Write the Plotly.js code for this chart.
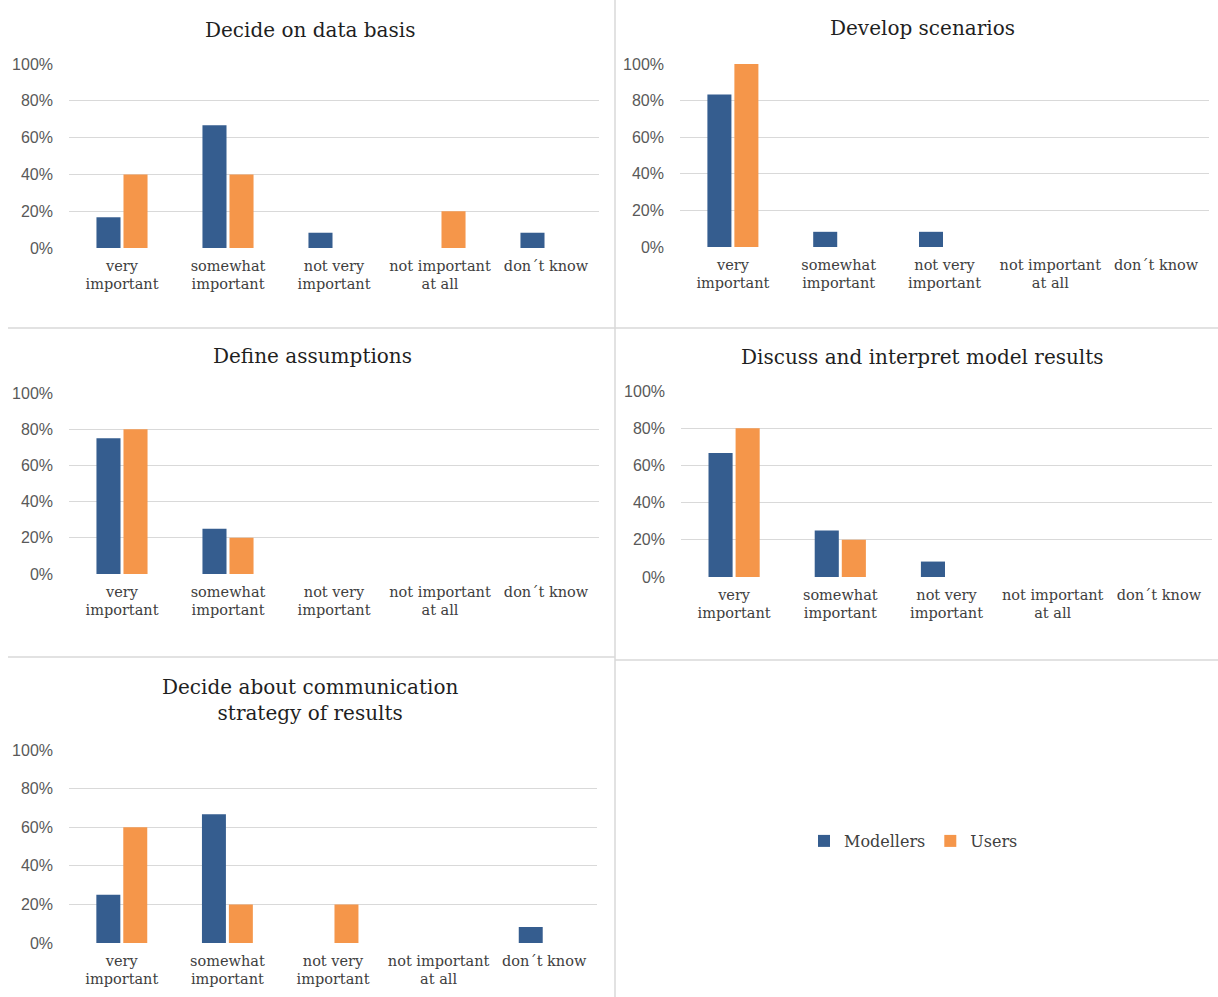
<!DOCTYPE html>
<html>
<head>
<meta charset="utf-8">
<script src="https://cdn.plot.ly/plotly-3.0.1.min.js"></script>
<style>html,body{margin:0;padding:0;background:#fff;}#chart{width:1218px;height:997px;}</style>
</head>
<body>
<div id="chart"></div>
<script>
// ---- Data ----
const categories = ["very important", "somewhat important", "not very important", "not important at all", "don´t know"];
const tickLabels = ["very<br>important", "somewhat<br>important", "not very<br>important", "not important<br>at all", "don´t know"];
const seriesNames = ["Modellers", "Users"];
const panelTitles = ["Decide on data basis", "Develop scenarios", "Define assumptions", "Discuss and interpret model results", "Decide about communication<br>strategy of results"];

const dataBasisModellers = [0.167, 0.667, 0.083, 0, 0.083];
const dataBasisUsers     = [0.40, 0.40, 0, 0.20, 0];
const scenariosModellers = [0.833, 0.083, 0.083, 0, 0];
const scenariosUsers     = [1.00, 0, 0, 0, 0];
const assumptionsModellers = [0.75, 0.25, 0, 0, 0];
const assumptionsUsers     = [0.80, 0.20, 0, 0, 0];
const discussModellers = [0.667, 0.25, 0.083, 0, 0];
const discussUsers     = [0.80, 0.20, 0, 0, 0];
const commModellers = [0.25, 0.667, 0, 0, 0.083];
const commUsers     = [0.60, 0.20, 0.20, 0, 0];

const panels = [
  [dataBasisModellers, dataBasisUsers],
  [scenariosModellers, scenariosUsers],
  [assumptionsModellers, assumptionsUsers],
  [discussModellers, discussUsers],
  [commModellers, commUsers]
];

// ---- Style / layout ----
const W = 1218, H = 997;
const colors = ["#355d8f", "#f5964a"];
const serif = "DejaVu Serif, serif";
const px = v => v / W;
const py = v => (H - v) / H;
// [xLeft, xRight, y0 (0%), y100 (100%)] in pixels
const boxes = [
  [69, 599, 248, 64],
  [680, 1209, 247, 64],
  [69, 599, 574, 393],
  [681, 1212, 577, 391],
  [69, 597, 943, 750]
];
const titlePos = [[310, 30], [922, 28], [312, 356], [922, 357], [310, 700]];

const traces = [];
const layout = {
  width: W, height: H,
  margin: {l: 0, r: 0, t: 0, b: 0},
  paper_bgcolor: "#ffffff",
  plot_bgcolor: "#ffffff",
  barmode: "group",
  bargap: 0.49,
  bargroupgap: 0.11,
  showlegend: true,
  legend: {
    orientation: "h", x: px(804), y: py(841), xanchor: "left", yanchor: "middle",
    font: {family: serif, size: 16, color: "#404040"},
    itemwidth: 30, traceorder: "normal"
  },
  annotations: [],
  shapes: []
};

panels.forEach((p, i) => {
  const n = i === 0 ? "" : String(i + 1);
  const b = boxes[i];
  p.forEach((vals, s) => {
    traces.push({
      type: "bar", x: categories, y: vals, name: seriesNames[s],
      marker: {color: colors[s]},
      xaxis: "x" + n, yaxis: "y" + n,
      showlegend: i === 0, legendgroup: seriesNames[s],
      hoverinfo: "skip"
    });
  });
  layout["xaxis" + n] = {
    domain: [px(b[0]), px(b[1])], anchor: "y" + n,
    type: "category", categoryorder: "array", categoryarray: categories,
    tickmode: "array", tickvals: categories, ticktext: tickLabels,
    showgrid: false, zeroline: false, showline: false, ticks: "",
    ticklabelstandoff: 7,
    tickfont: {family: serif, size: 14.5, color: "#404040"},
    fixedrange: true
  };
  layout["yaxis" + n] = {
    domain: [py(b[2]), py(b[3])], anchor: "x" + n,
    range: [0, 1], tickvals: [0, 0.2, 0.4, 0.6, 0.8, 1.0], tickformat: ".0%",
    showgrid: true, gridcolor: "#d9d9d9", gridwidth: 1, zeroline: false, showline: false,
    ticks: "", ticklabelstandoff: 15,
    tickfont: {family: "Liberation Sans, sans-serif", size: 16, color: "#595959"},
    fixedrange: true
  };
  layout.annotations.push({
    text: panelTitles[i], xref: "paper", yref: "paper",
    x: px(titlePos[i][0]), y: py(titlePos[i][1]), xanchor: "center", yanchor: "middle",
    showarrow: false, font: {family: serif, size: 20, color: "#1f1f1f"}
  });
});

const sep = (x0, y0, x1, y1) => ({
  type: "line", xref: "paper", yref: "paper",
  x0: px(x0), y0: py(y0), x1: px(x1), y1: py(y1),
  line: {color: "#d9d9d9", width: 1.5}
});
layout.shapes.push(sep(615, 0, 615, 997));
layout.shapes.push(sep(8, 328, 1218, 328));
layout.shapes.push(sep(8, 657, 615, 657));
layout.shapes.push(sep(615, 660, 1218, 660));

Plotly.newPlot("chart", traces, layout, {staticPlot: true, displayModeBar: false});
</script>
</body>
</html>
